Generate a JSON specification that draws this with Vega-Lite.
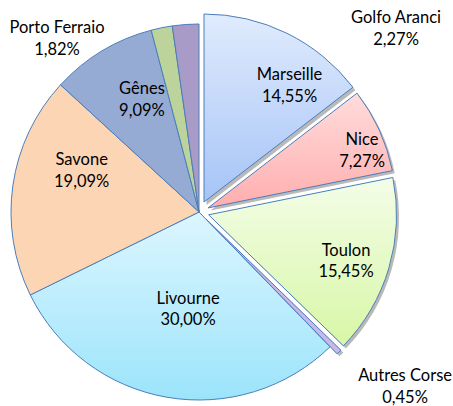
{
  "$schema": "https://vega.github.io/schema/vega-lite/v6.json",
  "width": 398,
  "height": 388,
  "autosize": {"type": "none"},
  "padding": {"left": 0, "top": 18, "right": 55, "bottom": 0},
  "background": "white",
  "config": {"view": {"stroke": null}},
  "data": {
    "values": [
      {"name": "Marseille", "value": 14.55, "label": ["Marseille", "14,55%"]},
      {"name": "Nice", "value": 7.27, "label": ["Nice", "7,27%"]},
      {"name": "Toulon", "value": 15.45, "label": ["Toulon", "15,45%"]},
      {"name": "Autres Corse", "value": 0.45, "label": ["Autres Corse", "0,45%"]},
      {"name": "Livourne", "value": 30.0, "label": ["Livourne", "30,00%"]},
      {"name": "Savone", "value": 19.09, "label": ["Savone", "19,09%"]},
      {"name": "Gênes", "value": 9.09, "label": ["Gênes", "9,09%"]},
      {"name": "Porto Ferraio", "value": 1.82, "label": ["Porto Ferraio", "1,82%"]},
      {"name": "Golfo Aranci", "value": 2.27, "label": ["Golfo Aranci", "2,27%"]}
    ]
  },
  "transform": [
    {"stack": "value", "groupby": [], "offset": "normalize", "as": ["start", "end"]}
  ],
  "encoding": {
    "theta": {"field": "start", "type": "quantitative", "scale": {"domain": [0, 1]}},
    "theta2": {"field": "end"}
  },
  "layer": [
    {"transform": [{"filter": "datum.name === 'Livourne'"}],
     "mark": {"type": "arc", "outerRadius": 188, "stroke": "#4a7ebb", "strokeWidth": 1,
       "fill": {"gradient": "linear", "x1": 0, "y1": 0, "x2": 0, "y2": 1, "stops": [{"offset": 0, "color": "#dcf6ff"}, {"offset": 1, "color": "#9ce4fb"}]}}},
    {"transform": [{"filter": "datum.name === 'Savone'"}],
     "mark": {"type": "arc", "outerRadius": 188, "stroke": "#4a7ebb", "strokeWidth": 1, "fill": "#fcd5b5"}},
    {"transform": [{"filter": "datum.name === 'Gênes'"}],
     "mark": {"type": "arc", "outerRadius": 188, "stroke": "#4a7ebb", "strokeWidth": 1, "fill": "#95abd4"}},
    {"transform": [{"filter": "datum.name === 'Porto Ferraio'"}],
     "mark": {"type": "arc", "outerRadius": 188, "stroke": "#4a7ebb", "strokeWidth": 1, "fill": "#bcd49c"}},
    {"transform": [{"filter": "datum.name === 'Golfo Aranci'"}],
     "mark": {"type": "arc", "outerRadius": 188, "stroke": "#4a7ebb", "strokeWidth": 1, "fill": "#a99bc7"}},
    {"transform": [{"filter": "datum.name === 'Marseille'"}],
     "mark": {"type": "arc", "outerRadius": 188, "fill": "#808080", "opacity": 0.55, "xOffset": 7.5, "yOffset": -7}},
    {"transform": [{"filter": "datum.name === 'Nice'"}],
     "mark": {"type": "arc", "outerRadius": 188, "fill": "#808080", "opacity": 0.55, "xOffset": 11.5, "yOffset": -1.5}},
    {"transform": [{"filter": "datum.name === 'Toulon'"}],
     "mark": {"type": "arc", "outerRadius": 188, "fill": "#808080", "opacity": 0.55, "xOffset": 12, "yOffset": 5.5}},
    {"transform": [{"filter": "datum.name === 'Autres Corse'"}],
     "mark": {"type": "arc", "outerRadius": 188, "fill": "#808080", "opacity": 0.55, "xOffset": 9.5, "yOffset": 9.5}},
    {"transform": [{"filter": "datum.name === 'Marseille'"}],
     "mark": {"type": "arc", "outerRadius": 188, "stroke": "#4a7ebb", "strokeWidth": 1, "xOffset": 5, "yOffset": -10,
       "fill": {"gradient": "linear", "x1": 0, "y1": 0, "x2": 0, "y2": 1, "stops": [{"offset": 0, "color": "#e0ebfd"}, {"offset": 1, "color": "#a6c4f7"}]}}},
    {"transform": [{"filter": "datum.name === 'Nice'"}],
     "mark": {"type": "arc", "outerRadius": 188, "stroke": "#4a7ebb", "strokeWidth": 1, "xOffset": 9.1, "yOffset": -4.1,
       "fill": {"gradient": "linear", "x1": 0, "y1": 0, "x2": 0, "y2": 1, "stops": [{"offset": 0, "color": "#ffdcdc"}, {"offset": 1, "color": "#ffaeae"}]}}},
    {"transform": [{"filter": "datum.name === 'Toulon'"}],
     "mark": {"type": "arc", "outerRadius": 188, "stroke": "#4a7ebb", "strokeWidth": 1, "xOffset": 9.6, "yOffset": 2.8,
       "fill": {"gradient": "linear", "x1": 0, "y1": 0, "x2": 0, "y2": 1, "stops": [{"offset": 0, "color": "#f3fde8"}, {"offset": 1, "color": "#d8f7a6"}]}}},
    {"transform": [{"filter": "datum.name === 'Autres Corse'"}],
     "mark": {"type": "arc", "outerRadius": 188, "stroke": "#4a7ebb", "strokeWidth": 1, "xOffset": 7.1, "yOffset": 7.1, "fill": "#c8b8ea"}},
    {"mark": {"type": "text", "font": "Lato", "fontSize": 16.5, "lineHeight": 21.7, "color": "#000", "baseline": "middle", "radius": 153, "dx": 23, "dy": 0.15},
     "encoding": {"theta": {"field": "value", "type": "quantitative", "stack": "normalize"}, "theta2": null, "order": {"field": "start", "type": "quantitative"},
       "text": {"condition": {"test": "datum.name === 'Marseille'", "field": "label"}, "value": ""}}},
    {"mark": {"type": "text", "font": "Lato", "fontSize": 16.5, "lineHeight": 21.7, "color": "#000", "baseline": "middle", "radius": 177, "dx": 2, "dy": 1.75},
     "encoding": {"theta": {"field": "value", "type": "quantitative", "stack": "normalize"}, "theta2": null, "order": {"field": "start", "type": "quantitative"},
       "text": {"condition": {"test": "datum.name === 'Nice'", "field": "label"}, "value": ""}}},
    {"mark": {"type": "text", "font": "Lato", "fontSize": 16.5, "lineHeight": 21.7, "color": "#000", "baseline": "middle", "radius": 155, "dx": -1.7, "dy": -5.05},
     "encoding": {"theta": {"field": "value", "type": "quantitative", "stack": "normalize"}, "theta2": null, "order": {"field": "start", "type": "quantitative"},
       "text": {"condition": {"test": "datum.name === 'Toulon'", "field": "label"}, "value": ""}}},
    {"mark": {"type": "text", "font": "Lato", "fontSize": 16.5, "lineHeight": 21.7, "color": "#000", "baseline": "middle", "radius": 190, "dx": 71.7, "dy": 29.85},
     "encoding": {"theta": {"field": "value", "type": "quantitative", "stack": "normalize"}, "theta2": null, "order": {"field": "start", "type": "quantitative"},
       "text": {"condition": {"test": "datum.name === 'Autres Corse'", "field": "label"}, "value": ""}}},
    {"mark": {"type": "text", "font": "Lato", "fontSize": 16.5, "lineHeight": 21.7, "color": "#000", "baseline": "middle", "radius": 98, "dx": 5.7, "dy": -9.85},
     "encoding": {"theta": {"field": "value", "type": "quantitative", "stack": "normalize"}, "theta2": null, "order": {"field": "start", "type": "quantitative"},
       "text": {"condition": {"test": "datum.name === 'Livourne'", "field": "label"}, "value": ""}}},
    {"mark": {"type": "text", "font": "Lato", "fontSize": 16.5, "lineHeight": 21.7, "color": "#000", "baseline": "middle", "radius": 115, "dx": -3.5, "dy": -35.25},
     "encoding": {"theta": {"field": "value", "type": "quantitative", "stack": "normalize"}, "theta2": null, "order": {"field": "start", "type": "quantitative"},
       "text": {"condition": {"test": "datum.name === 'Savone'", "field": "label"}, "value": ""}}},
    {"mark": {"type": "text", "font": "Lato", "fontSize": 16.5, "lineHeight": 21.7, "color": "#000", "baseline": "middle", "radius": 125, "dx": 7.5, "dy": -15.55},
     "encoding": {"theta": {"field": "value", "type": "quantitative", "stack": "normalize"}, "theta2": null, "order": {"field": "start", "type": "quantitative"},
       "text": {"condition": {"test": "datum.name === 'Gênes'", "field": "label"}, "value": ""}}},
    {"mark": {"type": "text", "font": "Lato", "fontSize": 16.5, "lineHeight": 21.7, "color": "#000", "baseline": "middle", "radius": 190, "dx": -104.3, "dy": 2.35},
     "encoding": {"theta": {"field": "value", "type": "quantitative", "stack": "normalize"}, "theta2": null, "order": {"field": "start", "type": "quantitative"},
       "text": {"condition": {"test": "datum.name === 'Porto Ferraio'", "field": "label"}, "value": ""}}},
    {"mark": {"type": "text", "font": "Lato", "fontSize": 16.5, "lineHeight": 21.7, "color": "#000", "baseline": "middle", "radius": 190, "dx": 210.6, "dy": -4.45},
     "encoding": {"theta": {"field": "value", "type": "quantitative", "stack": "normalize"}, "theta2": null, "order": {"field": "start", "type": "quantitative"},
       "text": {"condition": {"test": "datum.name === 'Golfo Aranci'", "field": "label"}, "value": ""}}}
  ]
}
